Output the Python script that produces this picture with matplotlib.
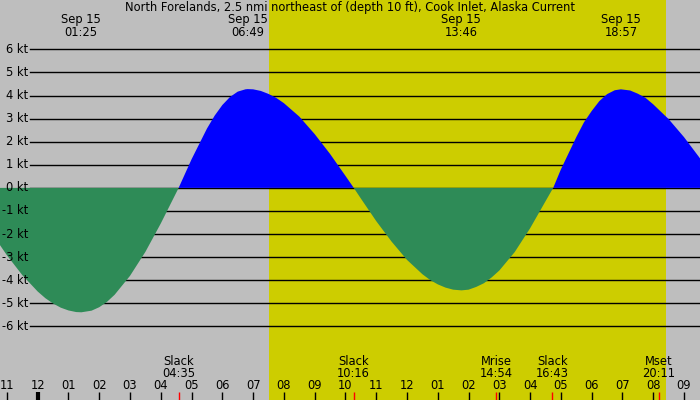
import matplotlib
matplotlib.use("Agg")
import numpy as np
import matplotlib.pyplot as plt
import matplotlib.transforms as mtransforms

# current speed (kt), time in hours after midnight Sep 15
times = [-1.225, -1.0, -0.5, 0.0, 0.25, 0.5, 0.75, 1.0, 1.25, 1.42, 1.75, 2.0,
         2.25, 2.5, 3.0, 3.5, 4.0, 4.58,
         5.0, 5.5, 5.75, 6.0, 6.25, 6.5, 6.75, 6.82, 7.0, 7.25, 7.5, 7.75, 8.0,
         8.5, 9.0, 9.5, 10.0, 10.27,
         10.5, 11.0, 11.5, 12.0, 12.5, 12.75, 13.0, 13.25, 13.5, 13.77, 14.0,
         14.25, 14.5, 14.75, 15.0, 15.5, 16.0, 16.5, 16.75,
         17.0, 17.5, 17.75, 18.0, 18.25, 18.5, 18.75, 18.95, 19.25, 19.5, 19.75,
         20.0, 20.5, 21.0, 21.52]
speeds = [-2.48, -2.92, -3.78, -4.49, -4.78, -5.01, -5.19, -5.31, -5.38, -5.39,
          -5.32, -5.17, -4.94, -4.63, -3.81, -2.77, -1.54, 0.0,
          1.24, 2.57, 3.13, 3.59, 3.94, 4.17, 4.27, 4.28, 4.27, 4.20, 4.07, 3.90,
          3.67, 3.09, 2.33, 1.47, 0.52, 0.0,
          -0.46, -1.44, -2.33, -3.12, -3.74, -3.99, -4.18, -4.32, -4.41, -4.44,
          -4.41, -4.29, -4.13, -3.88, -3.58, -2.78, -1.75, -0.58, 0.0,
          0.80, 2.20, 2.84, 3.33, 3.76, 4.06, 4.23, 4.27, 4.22, 4.08, 3.90,
          3.62, 2.98, 2.20, 1.28]

title = "North Forelands, 2.5 nmi northeast of (depth 10 ft), Cook Inlet, Alaska Current"

peak_times = ["01:25", "06:49", "13:46", "18:57"]
peak_date = "Sep 15"

event_names = ["Slack", "Slack", "Mrise", "Slack", "Mset"]
event_times = ["04:35", "10:16", "14:54", "16:43", "20:11"]

sunrise = "07:31"
sunset = "20:24"

kt_levels = [6, 5, 4, 3, 2, 1, 0, -1, -2, -3, -4, -5, -6]

hour_ticks = list(range(-1, 22))
hour_labels = ["11", "12", "01", "02", "03", "04", "05", "06", "07", "08", "09", "10",
               "11", "12", "01", "02", "03", "04", "05", "06", "07", "08", "09"]


def to_hours(s):
    h, m = s.split(":")
    return int(h) + int(m) / 60.0


plt.rcParams['font.family'] = 'DejaVu Sans'
plt.rcParams['font.size'] = 8.3

W, H = 700, 400
fig = plt.figure(figsize=(7, 4), dpi=100)
fig.patch.set_facecolor('#bebebe')
ax = fig.add_axes([0, 0, 1, 1])
ax.axis('off')
ax.set_xlim(-1.225, 21.52)
ax.set_ylim(-9.19, 8.14)

# daylight
ax.axvspan(to_hours(sunrise), to_hours(sunset), color='#cdcd00', lw=0, zorder=0)

# kt lines and labels
ylab = mtransforms.blended_transform_factory(ax.transAxes, ax.transData)
for k in kt_levels:
    ax.axhline(k, xmin=30 / W, xmax=1, color='black', lw=1, zorder=1)
    ax.text(28.5 / W, k, "%d kt" % k, transform=ylab, ha='right', va='center', zorder=4)

# flood / ebb
t = np.array(times)
v = np.array(speeds)
ax.fill_between(t, v, 0, where=v >= 0, interpolate=True, color='#0000ff', lw=0, zorder=2)
ax.fill_between(t, v, 0, where=v <= 0, interpolate=True, color='#2e8b57', lw=0, zorder=2)

xlab = mtransforms.blended_transform_factory(ax.transData, ax.transAxes)

fig.text(0.5, 1 - 7.5 / H, title, ha='center', va='center')

for pt in peak_times:
    x = to_hours(pt)
    ax.text(x, 1 - 20 / H, peak_date, transform=xlab, ha='center', va='center')
    ax.text(x, 1 - 32 / H, pt, transform=xlab, ha='center', va='center')

# hour ticks along the bottom
for h, lab in zip(hour_ticks, hour_labels):
    ax.text(h, 1 - 385.5 / H, lab, transform=xlab, ha='center', va='center')
    ax.vlines(h, 0, 8 / H, transform=xlab, color='black', lw=3 if h == 0 else 1, zorder=3)

for name, et in zip(event_names, event_times):
    x = to_hours(et)
    ax.text(x, 1 - 361.5 / H, name, transform=xlab, ha='center', va='center')
    ax.text(x, 1 - 373.5 / H, et, transform=xlab, ha='center', va='center')
    ax.vlines(x, 0, 8 / H, transform=xlab, color='red', lw=1, zorder=3)

fig.savefig("out.png", dpi=100, facecolor=fig.get_facecolor())
